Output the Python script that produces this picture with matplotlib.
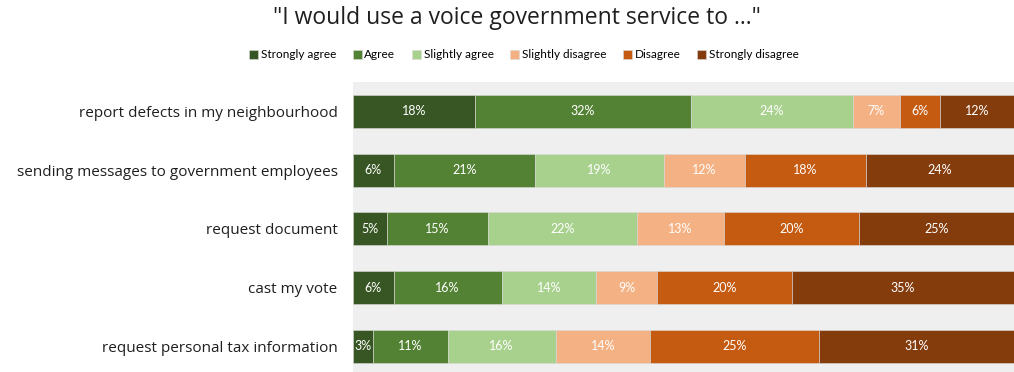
import matplotlib
matplotlib.use('Agg')
import matplotlib.pyplot as plt
import numpy as np

categories = ["report defects in my neighbourhood",
              "sending messages to government employees",
              "request document",
              "cast my vote",
              "request personal tax information"]
levels = ["Strongly agree", "Agree", "Slightly agree",
          "Slightly disagree", "Disagree", "Strongly disagree"]
strongly_agree = [18, 6, 5, 6, 3]
agree = [32, 21, 15, 16, 11]
slightly_agree = [24, 19, 22, 14, 16]
slightly_disagree = [7, 12, 13, 9, 14]
disagree = [6, 18, 20, 20, 25]
strongly_disagree = [12, 24, 25, 35, 31]
series = [strongly_agree, agree, slightly_agree,
          slightly_disagree, disagree, strongly_disagree]
colors = ["#375623", "#548235", "#A9D18E", "#F4B183", "#C55A11", "#843C0C"]
title = '"I would use a voice government service to ..."'

W, H = 1014, 372
fig = plt.figure(figsize=(W / 100, H / 100), dpi=100)
ax = fig.add_axes([353 / W, 0, 1 - 353 / W, 290 / H])
ax.set_facecolor("#EFEFEF")

y = np.arange(len(categories))
left = np.zeros(len(categories))
for name, vals, col in zip(levels, series, colors):
    vals = np.array(vals, dtype=float)
    bars = ax.barh(y, vals, left=left, height=0.56, color=col, label=name,
                   edgecolor="#D9D9D9", linewidth=0.4)
    ax.bar_label(bars, labels=[f"{int(v)}%" for v in vals], label_type="center",
                 color="white", fontsize=9, family="Lato")
    left += vals

ax.set_xlim(0, 97.9)
ax.set_ylim(4.436, -0.5)
ax.set_xticks([])
ax.set_yticks(y)
ax.set_yticklabels(categories, fontsize=11, family="Open Sans", color="#1f1f1f")
ax.tick_params(axis="y", length=0, pad=11)
for s in ax.spines.values():
    s.set_visible(False)

fig.text(517 / W, 1 - 18 / H, title, ha="center", va="center",
         fontsize=16.5, family="Open Sans", color="#1f1f1f")

fig.legend(loc="center", bbox_to_anchor=(524 / W, 1 - 55 / H), ncol=6,
           frameon=False, prop={"family": "Lato", "size": 8.5},
           handlelength=0.75, handleheight=0.75, handletextpad=0.25,
           columnspacing=1.4, borderaxespad=0, borderpad=0)

fig.savefig("out.png", dpi=100)
